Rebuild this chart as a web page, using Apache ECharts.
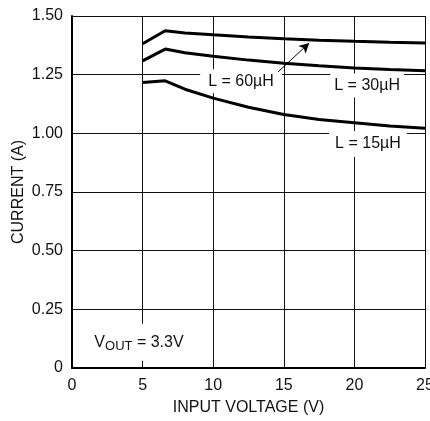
<!DOCTYPE html>
<html>
<head>
<meta charset="utf-8">
<script src="https://cdn.jsdelivr.net/npm/echarts@6/dist/echarts.min.js"></script>
<style>
html,body{margin:0;padding:0;background:#fff;}
#c{width:430px;height:421px;}
</style>
</head>
<body>
<div id="c"></div>
<script>
var FONT = '"Liberation Sans", Arial, sans-serif';
var inputVoltage = [5, 6.6, 8, 10, 12.5, 15, 17.5, 20, 22.5, 25];
var current60uH = [1.382, 1.437, 1.428, 1.420, 1.411, 1.403, 1.397, 1.392, 1.388, 1.385];
var current30uH = [1.309, 1.359, 1.343, 1.328, 1.312, 1.299, 1.288, 1.278, 1.272, 1.267];
var current15uH = [1.217, 1.224, 1.188, 1.150, 1.111, 1.080, 1.059, 1.045, 1.031, 1.022];
var xTicks = [0, 5, 10, 15, 20, 25];
var yTickLabels = ['0', '0.25', '0.50', '0.75', '1.00', '1.25', '1.50'];
var arrowFrom = [14.6, 1.262];
var arrowTo = [16.8, 1.385];
var labelTexts = ['L = 60\u00b5H', 'L = 30\u00b5H', 'L = 15\u00b5H'];
var labelAnchors = [[11.97, 1.222], [20.9, 1.204], [20.96, 0.955]];
var voutAnchor = [1.3, 0.11];

function pairs(xs, ys){ return xs.map(function(x,i){return [x, ys[i]];}); }

var chart = echarts.init(document.getElementById('c'));
var lineBase = {type:'line', showSymbol:false, symbol:'none', lineStyle:{color:'#000', width:3}, itemStyle:{color:'#000'}, z:5, animation:false};
chart.setOption({
  animation:false,
  backgroundColor:'#fff',
  grid:{left:72, right:5, top:16, bottom:53, containLabel:false, outerBoundsMode:'none'},
  xAxis:{
    type:'value', min:0, max:25, interval:5,
    name:'INPUT VOLTAGE (V)', nameLocation:'middle', nameGap:32,
    nameTextStyle:{fontFamily:FONT, fontSize:16, color:'#111'},
    axisLine:{show:true, lineStyle:{color:'#000', width:2}},
    axisTick:{show:false},
    axisLabel:{fontFamily:FONT, fontSize:16, color:'#111', margin:10},
    splitLine:{show:true, lineStyle:{color:'#111', width:1}}
  },
  yAxis:{
    type:'value', min:0, max:1.5, interval:0.25,
    name:'CURRENT (A)', nameLocation:'middle', nameGap:45, nameMoveOverlap:false,
    nameTextStyle:{fontFamily:FONT, fontSize:16, color:'#111'},
    axisLine:{show:true, lineStyle:{color:'#000', width:2}},
    axisTick:{show:false},
    axisLabel:{fontFamily:FONT, fontSize:16, color:'#111', margin:9,
      formatter:function(v){ return yTickLabels[Math.round(v/0.25)]; }},
    splitLine:{show:true, lineStyle:{color:'#111', width:1}}
  },
  series:[
    Object.assign({}, lineBase, {name:'60uH', data:pairs(inputVoltage, current60uH),
      markLine:{silent:true, symbol:['none','arrow'], symbolSize:[8,10], animation:false,
        lineStyle:{color:'#000', width:1, type:'solid'}, label:{show:false},
        data:[[{coord:arrowFrom},{coord:arrowTo}]]}}),
    Object.assign({}, lineBase, {name:'30uH', data:pairs(inputVoltage, current30uH)}),
    Object.assign({}, lineBase, {name:'15uH', data:pairs(inputVoltage, current15uH)})
  ]
});

var graphics = [];
var pads = [[4,8],[4,4],[5,6]];
labelTexts.forEach(function(t, i){
  var p = chart.convertToPixel({gridIndex:0}, labelAnchors[i]);
  graphics.push({type:'text', z:3, x:p[0], y:p[1], style:{
    text:t, font:'16px ' + FONT, fill:'#111', align:'center', verticalAlign:'middle',
    backgroundColor:'#fff', padding:pads[i]}});
});
var vp = chart.convertToPixel({gridIndex:0}, voutAnchor);
graphics.push({type:'text', z:3, x:vp[0], y:vp[1], style:{
  text:'{a|V}{b|OUT}{a| = 3.3V}', align:'left', verticalAlign:'middle',
  backgroundColor:'#fff', padding:[8,4,8,4], fill:'#111',
  rich:{a:{fontSize:16, fontFamily:FONT, fill:'#111', lineHeight:18},
        b:{fontSize:13, fontFamily:FONT, fill:'#111', padding:[8,0,0,0]}}}});
chart.setOption({graphic:graphics});
</script>
</body>
</html>
